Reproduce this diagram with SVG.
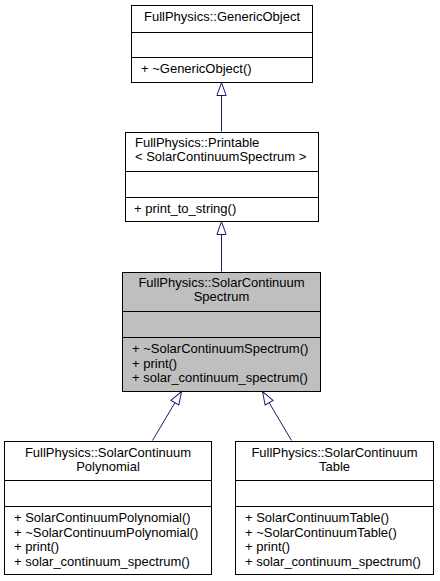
<svg xmlns="http://www.w3.org/2000/svg" width="440" height="581" viewBox="0 0 440 581">
<style>
.box{fill:#ffffff;stroke:#000000;stroke-width:1}
.sel{fill:#bfbfbf;stroke:#000000;stroke-width:1}
.div{stroke:#000000;stroke-width:1}
text{font-family:"Liberation Sans",Arial,sans-serif;font-size:13px;fill:#000000}
.c{text-anchor:middle}
.edge{stroke:#191970;stroke-width:1;fill:none;marker-end:url(#tri)}
</style>
<defs>
<marker id="tri" markerUnits="userSpaceOnUse" viewBox="-1 -6 15 12" markerWidth="15" markerHeight="12" refX="13" refY="0" orient="auto">
<path d="M0,-4.6 L13,0 L0,4.6 Z" fill="#ffffff" stroke="#191970" stroke-width="1"/>
</marker>
</defs>
<rect width="440" height="581" fill="#ffffff"/>
<g id="connectors">
<line class="edge" x1="221.5" y1="131.5" x2="221.5" y2="82.5"/>
<line class="edge" x1="221.5" y1="271.5" x2="221.5" y2="221.5"/>
<line class="edge" x1="152.5" y1="440.5" x2="181.5" y2="391.5"/>
<line class="edge" x1="291.5" y1="440.5" x2="262.5" y2="391.5"/>
</g>
<g id="GenericObject">
<rect class="box" x="131.5" y="5.5" width="181" height="77"/>
<line class="div" x1="131.5" y1="32.5" x2="312.5" y2="32.5"/>
<line class="div" x1="131.5" y1="57.5" x2="312.5" y2="57.5"/>
<text class="c" x="222" y="21">FullPhysics::GenericObject</text>
<text x="141" y="73">+ ~GenericObject()</text>
</g>
<g id="Printable">
<rect class="box" x="125.5" y="132.5" width="193" height="89"/>
<line class="div" x1="125.5" y1="171.5" x2="318.5" y2="171.5"/>
<line class="div" x1="125.5" y1="197.5" x2="318.5" y2="197.5"/>
<text x="135" y="147">FullPhysics::Printable</text>
<text x="135" y="161">&lt; SolarContinuumSpectrum &gt;</text>
<text x="134" y="213">+ print_to_string()</text>
</g>
<g id="SolarContinuumSpectrum">
<rect class="sel" x="122.5" y="272.5" width="198" height="119"/>
<line class="div" x1="122.5" y1="311.5" x2="320.5" y2="311.5"/>
<line class="div" x1="122.5" y1="337.5" x2="320.5" y2="337.5"/>
<text class="c" x="221.5" y="287">FullPhysics::SolarContinuum</text>
<text class="c" x="221.5" y="301">Spectrum</text>
<text x="132" y="353">+ ~SolarContinuumSpectrum()</text>
<text x="132" y="367.5">+ print()</text>
<text x="132" y="382">+ solar_continuum_spectrum()</text>
</g>
<g id="SolarContinuumPolynomial">
<rect class="box" x="4.5" y="441.5" width="207" height="133"/>
<line class="div" x1="4.5" y1="480.5" x2="211.5" y2="480.5"/>
<line class="div" x1="4.5" y1="506.5" x2="211.5" y2="506.5"/>
<text class="c" x="108" y="457">FullPhysics::SolarContinuum</text>
<text class="c" x="108" y="471">Polynomial</text>
<text x="14" y="522">+ SolarContinuumPolynomial()</text>
<text x="14" y="536.5">+ ~SolarContinuumPolynomial()</text>
<text x="14" y="551">+ print()</text>
<text x="14" y="565.5">+ solar_continuum_spectrum()</text>
</g>
<g id="SolarContinuumTable">
<rect class="box" x="235.5" y="441.5" width="198" height="133"/>
<line class="div" x1="235.5" y1="480.5" x2="433.5" y2="480.5"/>
<line class="div" x1="235.5" y1="506.5" x2="433.5" y2="506.5"/>
<text class="c" x="334.5" y="457">FullPhysics::SolarContinuum</text>
<text class="c" x="334.5" y="471">Table</text>
<text x="245" y="522">+ SolarContinuumTable()</text>
<text x="245" y="536.5">+ ~SolarContinuumTable()</text>
<text x="245" y="551">+ print()</text>
<text x="245" y="565.5">+ solar_continuum_spectrum()</text>
</g>
</svg>
